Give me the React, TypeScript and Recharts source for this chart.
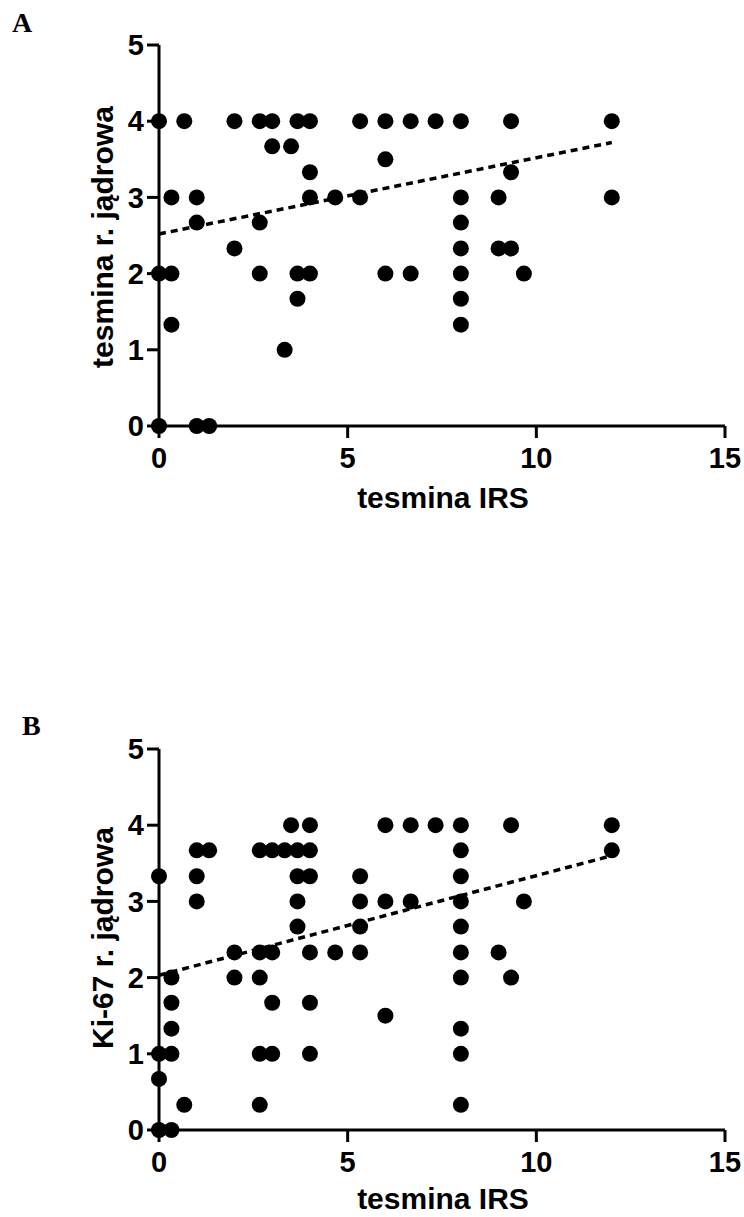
import React from "react";
import { ScatterChart, Scatter, XAxis, YAxis } from "recharts";

// panel A: tesmina IRS vs tesmina r. jądrowa
const irsA = [
  0, 0.67, 2, 2.67, 3, 3.67, 4, 5.33, 6, 6.67, 7.33, 8, 9.33, 12,
  3, 3.5,
  6,
  4, 9.33,
  0.33, 1, 4, 4.67, 5.33, 8, 9, 12,
  1, 2.67, 8,
  2, 8, 9, 9.33,
  0, 0.33, 2.67, 3.67, 4, 6, 6.67, 8, 9.67,
  3.67, 8,
  0.33, 8,
  3.33,
  0, 1, 1.33,
];
const nuclearA = [
  4, 4, 4, 4, 4, 4, 4, 4, 4, 4, 4, 4, 4, 4,
  3.67, 3.67,
  3.5,
  3.33, 3.33,
  3, 3, 3, 3, 3, 3, 3, 3,
  2.67, 2.67, 2.67,
  2.33, 2.33, 2.33, 2.33,
  2, 2, 2, 2, 2, 2, 2, 2, 2,
  1.67, 1.67,
  1.33, 1.33,
  1,
  0, 0, 0,
];
const fitAx = [0, 12];
const fitAy = [2.52, 3.72];

// panel B: tesmina IRS vs Ki-67 r. jądrowa
const irsB = [
  3.5, 4, 6, 6.67, 7.33, 8, 9.33, 12,
  1, 1.33, 2.67, 3, 3.33, 3.67, 4, 8, 12,
  0, 1, 3.67, 4, 5.33, 8,
  1, 3.67, 5.33, 6, 6.67, 8, 9.67,
  3.67, 5.33, 8,
  2, 2.67, 3, 4, 4.67, 5.33, 8, 9,
  0.33, 2, 2.67, 8, 9.33,
  0.33, 3, 4,
  6,
  0.33, 8,
  0, 0.33, 2.67, 3, 4, 8,
  0,
  0.67, 2.67, 8,
  0, 0.33,
];
const ki67B = [
  4, 4, 4, 4, 4, 4, 4, 4,
  3.67, 3.67, 3.67, 3.67, 3.67, 3.67, 3.67, 3.67, 3.67,
  3.33, 3.33, 3.33, 3.33, 3.33, 3.33,
  3, 3, 3, 3, 3, 3, 3,
  2.67, 2.67, 2.67,
  2.33, 2.33, 2.33, 2.33, 2.33, 2.33, 2.33, 2.33,
  2, 2, 2, 2, 2,
  1.67, 1.67, 1.67,
  1.5,
  1.33, 1.33,
  1, 1, 1, 1, 1, 1,
  0.67,
  0.33, 0.33, 0.33,
  0, 0,
];
const fitBx = [0, 12];
const fitBy = [2.03, 3.6];

const xTicks = [0, 5, 10, 15];
const yTicks = [0, 1, 2, 3, 4, 5];

const zip = (xs: number[], ys: number[]) => xs.map((x, i) => ({ x, y: ys[i] }));

const FONT = "'Liberation Sans', Arial, sans-serif";
const tickStyle = { fontSize: 29, fontWeight: "bold", fill: "#000", fontFamily: FONT };
const axisStroke = { stroke: "#000", strokeWidth: 3 };

const Dot = (props: any) => <circle cx={props.cx} cy={props.cy} r={8} fill="#000" />;
const NoDot = () => <g />;

function Panel({ points, fit }: { points: { x: number; y: number }[]; fit: { x: number; y: number }[] }) {
  return (
    <ScatterChart width={744} height={600} margin={{ top: 45, right: 19, bottom: 134, left: 99 }}>
      <XAxis
        type="number"
        dataKey="x"
        domain={[0, 15]}
        ticks={xTicks}
        tick={tickStyle}
        tickSize={12}
        tickMargin={9}
        axisLine={axisStroke}
        tickLine={axisStroke}
        height={40}
      />
      <YAxis
        type="number"
        dataKey="y"
        domain={[0, 5]}
        ticks={yTicks}
        tick={tickStyle}
        tickSize={12}
        tickMargin={3}
        axisLine={axisStroke}
        tickLine={axisStroke}
        width={60}
      />
      <Scatter
        data={fit}
        line={{ stroke: "#000", strokeWidth: 3.5, strokeDasharray: "7 5" }}
        shape={NoDot}
        isAnimationActive={false}
      />
      <Scatter data={points} shape={Dot} isAnimationActive={false} />
    </ScatterChart>
  );
}

export default function App() {
  const labelStyle = { fontFamily: FONT, fontWeight: "bold" as const, fill: "#000" };
  return (
    <div style={{ position: "absolute", left: 0, top: 0, width: 744, height: 1217, background: "#fff" }}>
      <div style={{ position: "absolute", left: 0, top: 0 }}>
        <Panel points={zip(irsA, nuclearA)} fit={zip(fitAx, fitAy)} />
      </div>
      <div style={{ position: "absolute", left: 0, top: 704 }}>
        <Panel points={zip(irsB, ki67B)} fit={zip(fitBx, fitBy)} />
      </div>
      <svg width={744} height={1217} style={{ position: "absolute", left: 0, top: 0, pointerEvents: "none" }}>
        <text x={12} y={32} fontFamily="'Liberation Serif', 'Times New Roman', serif" fontWeight="bold" fontSize={28}>
          A
        </text>
        <text x={22} y={735} fontFamily="'Liberation Serif', 'Times New Roman', serif" fontWeight="bold" fontSize={28}>
          B
        </text>
        <text x={443} y={508} textAnchor="middle" fontSize={30} {...labelStyle}>
          tesmina IRS
        </text>
        <text x={443} y={1209} textAnchor="middle" fontSize={30} {...labelStyle}>
          tesmina IRS
        </text>
        <text x={113} y={237} textAnchor="middle" fontSize={30} transform="rotate(-90 113 237)" {...labelStyle}>
          tesmina r. jądrowa
        </text>
        <text x={113} y={938} textAnchor="middle" fontSize={30} transform="rotate(-90 113 938)" {...labelStyle}>
          Ki-67 r. jądrowa
        </text>
      </svg>
    </div>
  );
}
